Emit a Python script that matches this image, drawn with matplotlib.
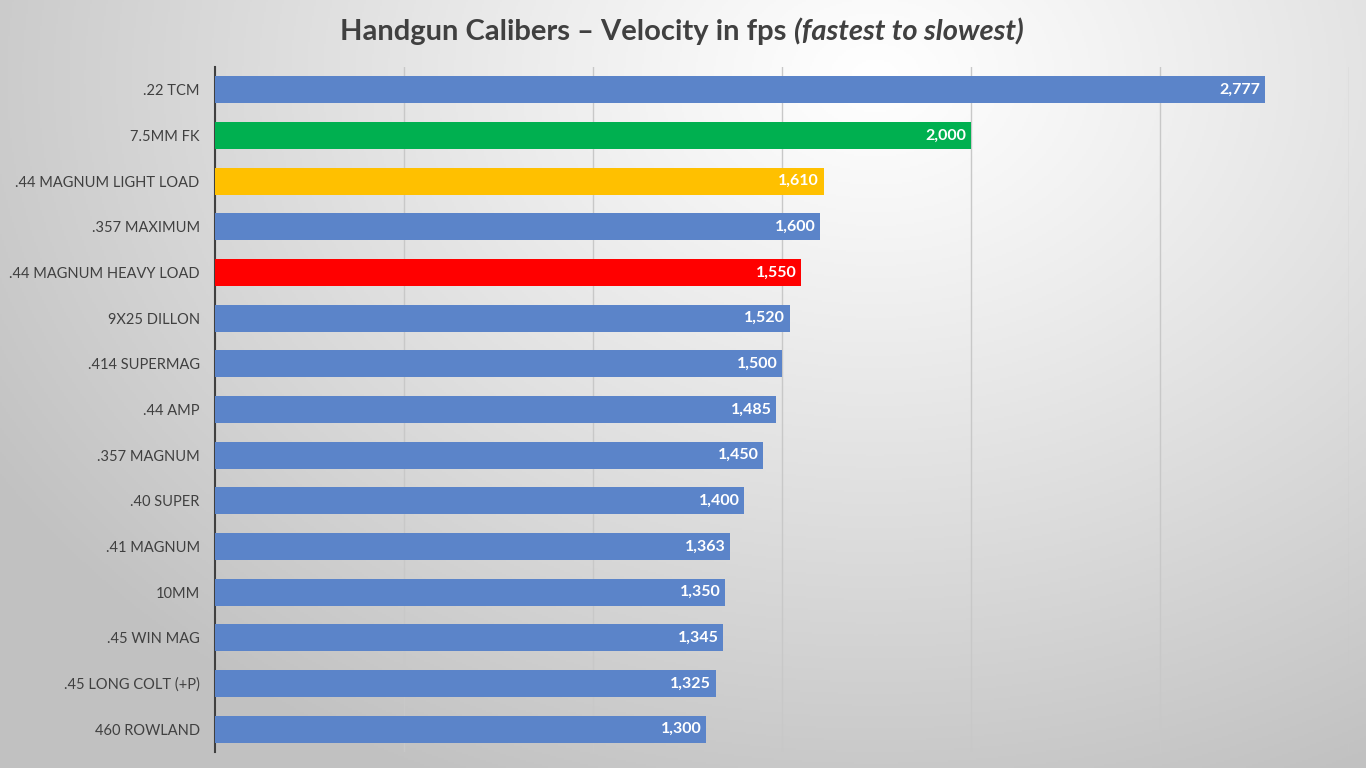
import numpy as np
import matplotlib.pyplot as plt

calibers = [".22 TCM", "7.5MM FK", ".44 MAGNUM LIGHT LOAD", ".357 MAXIMUM",
            ".44 MAGNUM HEAVY LOAD", "9X25 DILLON", ".414 SUPERMAG", ".44 AMP",
            ".357 MAGNUM", ".40 SUPER", ".41 MAGNUM", "10MM", ".45 WIN MAG",
            ".45 LONG COLT (+P)", "460 ROWLAND"]
velocity = [2777, 2000, 1610, 1600, 1550, 1520, 1500, 1485, 1450, 1400,
            1363, 1350, 1345, 1325, 1300]
highlight = {"7.5MM FK": "#00B050", ".44 MAGNUM LIGHT LOAD": "#FFC000",
             ".44 MAGNUM HEAVY LOAD": "#FF0000"}
base_color = "#5B84C9"

plt.rcParams['font.family'] = ['Lato', 'DejaVu Sans']

fig = plt.figure(figsize=(13.66, 7.68), dpi=100)

# radial gradient background
bg = fig.add_axes([0, 0, 1, 1], zorder=-10)
h, w = 384, 683
yy, xx = np.mgrid[0:h, 0:w]
cx, cy = 0.64 * w, 0.10 * h
d = np.sqrt(((xx - cx) / w) ** 2 + ((yy - cy) / h * 0.75) ** 2)
d = np.clip(d / 0.75, 0, 1)
shade = 1.0 - 0.24 * d ** 1.1
bg.imshow(np.dstack([shade] * 3), aspect='auto', extent=[0, 1, 0, 1])
bg.axis('off')

ax = fig.add_axes([215 / 1366, 1 - 752 / 768, (1349 - 215) / 1366, (752 - 67) / 768])
ax.patch.set_alpha(0)

y = np.arange(len(calibers))
colors = [highlight.get(c, base_color) for c in calibers]
bars = ax.barh(y, velocity, height=0.59, color=colors, zorder=3)
for b, v in zip(bars, velocity):
    ax.text(b.get_width() - 12, b.get_y() + b.get_height() / 2, f"{v:,}",
            ha='right', va='center', color='white', fontsize=11.5, fontweight='bold', zorder=4)

ax.set_xlim(0, 3000)
ax.set_ylim(len(calibers) - 0.5, -0.5)
ax.set_xticks(np.arange(0, 3001, 500))
ax.set_xticklabels([])
ax.tick_params(axis='x', length=0)
ax.tick_params(axis='y', length=0, pad=11)
ax.set_yticks(y)
ax.set_yticklabels(calibers, fontsize=10.5, color='#404040')
ax.grid(axis='x', color='#c8c8c8', linewidth=1, zorder=0)
for s in ['top', 'right', 'bottom']:
    ax.spines[s].set_visible(False)
ax.spines['left'].set_color('#404040')
ax.spines['left'].set_linewidth(1.5)

# title in two parts (regular bold + bold italic), centred together
ty = 1 - 32 / 768
t1 = fig.text(0, ty, "Handgun Calibers – Velocity in fps ", ha='left', va='center',
              fontsize=21, fontweight='bold', color='#404040')
t2 = fig.text(0, ty, "(fastest to slowest)", ha='left', va='center',
              fontsize=21, fontweight='bold', style='italic', color='#404040')
r = fig.canvas.get_renderer()
w1 = t1.get_window_extent(r).width / fig.bbox.width
w2 = t2.get_window_extent(r).width / fig.bbox.width
x0 = 682 / 1366 - (w1 + w2) / 2
t1.set_x(x0)
t2.set_x(x0 + w1)

fig.savefig("out.png", dpi=100)
